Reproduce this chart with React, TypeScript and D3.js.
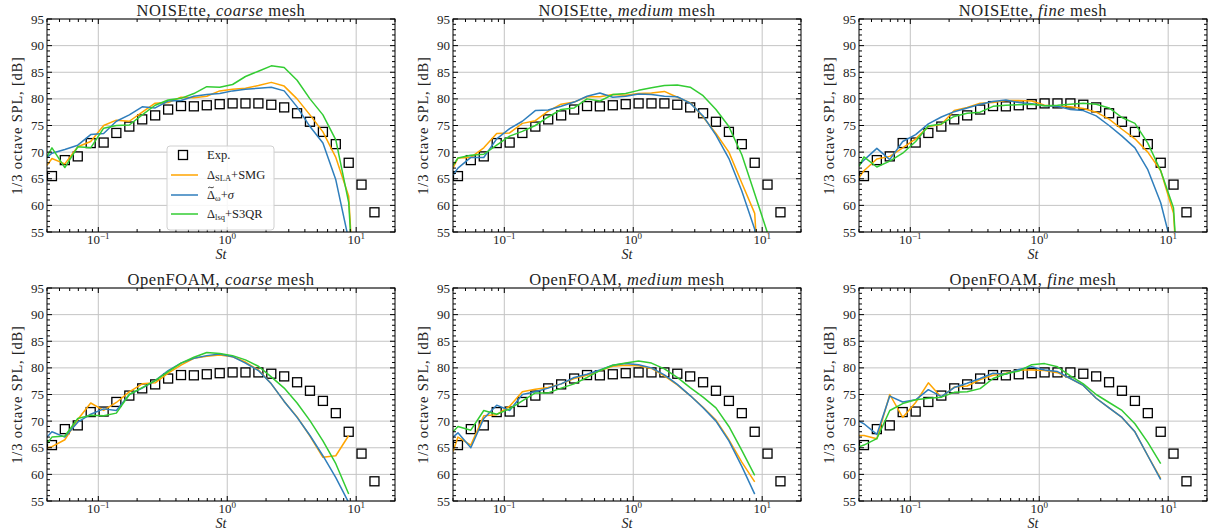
import React from "react";
import * as d3 from "d3";

// 1/3-octave band Strouhal numbers (experiment)
const EXP_ST = [0.0437, 0.055, 0.0693, 0.0873, 0.11, 0.138, 0.174, 0.219, 0.276, 0.348, 0.438, 0.551, 0.694, 0.874, 1.1, 1.385, 1.744, 2.196, 2.764, 3.48, 4.38, 5.52, 6.95, 8.75, 11.0, 13.86];
const EXP_SPL = [65.5, 68.5, 69.2, 71.7, 71.8, 73.6, 74.8, 76.15, 76.9, 78.0, 78.65, 78.6, 78.8, 79.0, 79.15, 79.15, 79.15, 78.9, 78.4, 77.3, 75.7, 73.8, 71.5, 68.0, 63.9, 58.7];

// Simulation St values (first value = left edge of axis)
const LINE_ST = [0.04, 0.0437, 0.055, 0.0693, 0.0873, 0.11, 0.138, 0.174, 0.219, 0.276, 0.348, 0.438, 0.551, 0.694, 0.874, 1.1, 1.385, 1.744, 2.196, 2.764, 3.48, 4.38, 5.52, 6.95, 8.75, 11.0, 13.86];

// NOISEtte coarse
const NC_SLA = [67.5, 68.8, 67.8, 71, 72, 75, 76, 75.8, 77.5, 79.2, 79.3, 80.3, 80.2, 80.5, 81.5, 81.8, 82, 82.5, 83.1, 82.4, 80, 77, 73.8, 69, 61.7, 20];
const NC_OMEGA = [69, 69.8, 70.5, 71.3, 73.3, 73.5, 75.8, 77, 78.5, 78.3, 79.6, 79.7, 80.5, 80.8, 81, 81.5, 81.8, 82, 82.2, 81.5, 78.5, 74.8, 71.7, 64.8, 53.5];
const NC_LSQ = [69.2, 70.8, 67.1, 71, 70.8, 74.5, 75, 75.1, 77, 78.8, 79.8, 80.1, 81, 82.3, 82.2, 82.7, 84.2, 85.2, 86.2, 85.9, 83.5, 80, 77, 72.3, 60.5, 20];
// NOISEtte medium
const NM_SLA = [67, 68.9, 69, 70.8, 73.5, 73.6, 75.4, 75.9, 77.7, 79, 79.4, 80.4, 80.4, 80.8, 80.7, 81, 81.1, 81.4, 80.3, 79.3, 76.6, 73.5, 70, 64.2, 58.5, 20];
const NM_OMEGA = [65.7, 67, 69, 69, 72.5, 74.4, 75.8, 77.8, 77.9, 78.6, 79.4, 80.5, 81.1, 80.3, 80.5, 80.9, 80.8, 80.5, 80.4, 79.2, 76.8, 73.2, 68.8, 62.7, 55.5, 20];
const NM_LSQ = [67.5, 68.9, 69.4, 69.6, 71.3, 73, 73.9, 75, 76.6, 78, 78.3, 80, 79.6, 80.8, 81, 81.6, 82.1, 82.5, 82.6, 82.2, 80.6, 78, 74.8, 69.5, 62.2, 54.8];
// NOISEtte fine
const NF_SLA = [65.2, 66.5, 68.7, 69.2, 70.8, 72.5, 74.8, 75.2, 77.8, 78.4, 79.2, 79.3, 79.7, 79.7, 79.6, 78.8, 78.6, 78.5, 78.2, 77.5, 76.2, 74.3, 72.5, 70, 66.5, 58.5, 20];
const NF_OMEGA = [67.5, 68.5, 70.7, 68.6, 72, 73.3, 75.3, 76.6, 77.6, 78.3, 79, 79.5, 79.8, 79.3, 79.1, 78.7, 78.6, 78, 77.8, 76.8, 75, 73, 70.8, 66.7, 60.5, 51];
const NF_LSQ = [67.3, 69.1, 67.2, 68.3, 69.8, 72, 74.9, 75.3, 76.7, 77.3, 77.5, 78.6, 78.8, 78.9, 79, 78.7, 78.8, 79, 79.2, 79, 78.3, 76.5, 75.4, 71.7, 66.5, 59.5, 20];
// OpenFOAM coarse
const OC_SLA = [65, 65.2, 66.5, 70.3, 73.4, 72, 73.5, 75.5, 77, 77.2, 79, 80.5, 81.8, 82.2, 82.4, 82.1, 81.1, 79.6, 77, 73.7, 70.8, 67.2, 63.2, 63.5, 67.3];
const OC_OMEGA = [67, 68, 67, 69.8, 71.3, 72.3, 72, 75, 76.2, 77.6, 79.5, 80.9, 81.8, 82.3, 82.6, 82.1, 80.9, 79.5, 77, 73.7, 70.7, 67.3, 63.5, 59.4, 54.7];
const OC_LSQ = [65.8, 67, 67.2, 70.5, 71.1, 71, 71.5, 75, 76.3, 77.6, 79.3, 80.9, 82, 82.9, 82.7, 82.3, 81.5, 80.3, 78.3, 76.2, 73.4, 70.1, 66.3, 62, 56.3];
// OpenFOAM medium
const OM_SLA = [64.3, 67, 65.5, 71, 71.2, 72.8, 75.5, 76, 76.3, 77, 78, 78.6, 79.5, 80.3, 80.5, 80.4, 79.9, 78.5, 76.8, 74.8, 72.6, 70.2, 66.5, 62.3, 58.6];
const OM_OMEGA = [67, 67.8, 65, 70.5, 73, 72, 75, 75.5, 76.2, 77, 78.2, 78.8, 79.6, 80.5, 80.8, 80.6, 80, 78.7, 76.9, 74.8, 72.5, 70, 66.3, 61.5, 56.3];
const OM_LSQ = [68, 69, 68.3, 72, 71.3, 72.3, 73.8, 75.3, 75.3, 76.2, 77, 78.2, 79.5, 80.5, 80.9, 81.3, 80.9, 79.8, 78.2, 76.3, 74.5, 72.5, 69, 64.5, 59.8];
// OpenFOAM fine
const OF_SLA = [67.3, 67.3, 66.7, 75, 70.7, 73.5, 77.2, 74.5, 76.4, 76.6, 77.8, 78.6, 79, 79.6, 79.6, 79.5, 79.1, 78, 76.7, 74.3, 72.5, 70.7, 68, 63.5, 59.2];
const OF_OMEGA = [70, 69.5, 67.5, 74.7, 73.6, 74, 75.9, 74.6, 76.3, 77.1, 78, 79, 78.8, 79.7, 80.2, 79.6, 79.3, 78, 76.7, 74.3, 72.5, 70.7, 68, 63.5, 59];
const OF_LSQ = [65.2, 65.5, 66.7, 72, 73.3, 74, 74.3, 74.5, 75.4, 75.5, 76.1, 78, 78.9, 79.4, 80.6, 80.8, 80.2, 78.5, 77, 75, 73.5, 72, 69.5, 66, 62];

const SOLVERS = ["NOISEtte", "OpenFOAM"];
const MESHES = ["coarse", "medium", "fine"];
const DATA = [
  [[NC_SLA, NC_OMEGA, NC_LSQ], [NM_SLA, NM_OMEGA, NM_LSQ], [NF_SLA, NF_OMEGA, NF_LSQ]],
  [[OC_SLA, OC_OMEGA, OC_LSQ], [OM_SLA, OM_OMEGA, OM_LSQ], [OF_SLA, OF_OMEGA, OF_LSQ]],
];

const X_DOMAIN = [0.04, 20];
const Y_DOMAIN = [55, 95];
const X_MAJOR = [0.1, 1, 10];
const X_MAJOR_EXP = ["\u22121", "0", "1"];
const Y_MAJOR = [55, 60, 65, 70, 75, 80, 85, 90, 95];

const COLORS = ["#ffa500", "#2f7ebc", "#33cc33"];
const FONT = "'Liberation Serif', 'DejaVu Serif', serif";
const TEXT = "#222";

const W = 348;
const H = 213;
const LEFTS = [47, 453, 859];
const TOPS = [19, 288];

function Panel({ left, top, row, col }: { left: number; top: number; row: number; col: number }) {
  const x = d3.scaleLog().domain(X_DOMAIN).range([0, W]);
  const y = d3.scaleLinear().domain(Y_DOMAIN).range([H, 0]);
  const line = d3
    .line<number>()
    .x((_, i) => x(LINE_ST[i]))
    .y((d) => y(d));
  const xMinor = x.ticks().filter((t) => !X_MAJOR.some((m) => Math.abs(m - t) / m < 1e-6));
  const yMinor = d3.range(Y_DOMAIN[0], Y_DOMAIN[1] + 0.5, 1).filter((v) => v % 5 !== 0);
  const clipId = `clip-${row}-${col}`;
  const series = DATA[row][col];
  return (
    <g transform={`translate(${left},${top})`}>
      <defs>
        <clipPath id={clipId}>
          <rect x={0} y={0} width={W} height={H} />
        </clipPath>
      </defs>
      {/* grid */}
      {X_MAJOR.map((t) => (
        <line key={"gx" + t} x1={x(t)} x2={x(t)} y1={0} y2={H} stroke="#c4c4c4" strokeWidth={1} />
      ))}
      {Y_MAJOR.map((t) => (
        <line key={"gy" + t} x1={0} x2={W} y1={y(t)} y2={y(t)} stroke="#c4c4c4" strokeWidth={1} />
      ))}
      {/* experiment */}
      <g clipPath={`url(#${clipId})`}>
        {EXP_ST.map((s, i) => (
          <rect
            key={"e" + i}
            x={x(s) - 4.5}
            y={y(EXP_SPL[i]) - 4.5}
            width={9}
            height={9}
            fill="none"
            stroke="#000"
            strokeWidth={1.3}
          />
        ))}
        {series.map((vals, k) => (
          <path key={"l" + k} d={line(vals) || ""} fill="none" stroke={COLORS[k]} strokeWidth={1.5} strokeLinejoin="round" />
        ))}
      </g>
      {/* frame */}
      <rect x={0} y={0} width={W} height={H} fill="none" stroke="#000" strokeWidth={1} />
      {/* ticks */}
      {X_MAJOR.map((t) => (
        <g key={"tx" + t}>
          <line x1={x(t)} x2={x(t)} y1={H} y2={H - 5} stroke="#000" />
          <line x1={x(t)} x2={x(t)} y1={0} y2={5} stroke="#000" />
        </g>
      ))}
      {xMinor.map((t) => (
        <g key={"mx" + t}>
          <line x1={x(t)} x2={x(t)} y1={H} y2={H - 3} stroke="#000" />
          <line x1={x(t)} x2={x(t)} y1={0} y2={3} stroke="#000" />
        </g>
      ))}
      {Y_MAJOR.map((t) => (
        <g key={"ty" + t}>
          <line x1={0} x2={5} y1={y(t)} y2={y(t)} stroke="#000" />
          <line x1={W} x2={W - 5} y1={y(t)} y2={y(t)} stroke="#000" />
        </g>
      ))}
      {yMinor.map((t) => (
        <g key={"my" + t}>
          <line x1={0} x2={3} y1={y(t)} y2={y(t)} stroke="#000" />
          <line x1={W} x2={W - 3} y1={y(t)} y2={y(t)} stroke="#000" />
        </g>
      ))}
      {/* tick labels */}
      {Y_MAJOR.map((t) => (
        <text key={"ly" + t} x={-3} y={y(t)} dy="0.35em" textAnchor="end" fontSize={13} fontFamily={FONT} fill={TEXT}>
          {t}
        </text>
      ))}
      {X_MAJOR.map((t, i) => (
        <text key={"lx" + t} x={x(t)} y={H + 12} textAnchor="middle" fontSize={13} fontFamily={FONT} fill={TEXT}>
          10
          <tspan dy={-5} fontSize={9}>
            {X_MAJOR_EXP[i]}
          </tspan>
        </text>
      ))}
      {/* axis labels */}
      <text x={W / 2} y={H + 27} textAnchor="middle" fontSize={14} fontStyle="italic" fontFamily={FONT} fill={TEXT}>
        St
      </text>
      <text
        transform={`translate(${-25},${H / 2}) rotate(-90)`}
        textAnchor="middle"
        fontSize={14.5}
        letterSpacing={0.8}
        fontFamily={FONT}
        fill={TEXT}
      >
        1/3 octave SPL, [dB]
      </text>
      {/* title */}
      <text x={W / 2} y={-3} textAnchor="middle" fontSize={16.5} letterSpacing={0.6} fontFamily={FONT} fill={TEXT}>
        {SOLVERS[row]}, <tspan fontStyle="italic">{MESHES[col]}</tspan> mesh
      </text>
      {row === 0 && col === 0 && <Legend />}
    </g>
  );
}

function Legend() {
  const lx = 120;
  const ly = 127;
  const rows = [8, 27, 47, 66];
  const t = rows[2] - 6;
  return (
    <g transform={`translate(${lx},${ly})`}>
      <rect x={0} y={0} width={107} height={84} rx={3} fill="#fff" fillOpacity={0.85} stroke="#d0d0d0" />
      <rect x={16 - 4.5} y={rows[0] + 1 - 4.5} width={9} height={9} fill="none" stroke="#000" strokeWidth={1.3} />
      {COLORS.map((c, i) => (
        <line key={c} x1={4} x2={31} y1={rows[i + 1] + 2} y2={rows[i + 1] + 2} stroke={c} strokeWidth={1.5} />
      ))}
      <path
        d={`M41.2,${t + 0.8} C42.5,${t - 1.2} 44.5,${t + 2.2} 46.8,${t}`}
        fill="none"
        stroke={TEXT}
        strokeWidth={0.9}
      />
      <g fontFamily={FONT} fontSize={12.5} fill={TEXT}>
        <text x={40} y={rows[0] + 5}>Exp.</text>
        <text x={40} y={rows[1] + 6}>
          Δ<tspan fontSize={8.5} dy={2}>SLA</tspan>
          <tspan dy={-2}>+SMG</tspan>
        </text>
        <text x={40} y={rows[2] + 6}>
          Δ<tspan fontSize={8.5} dy={2}>ω</tspan>
          <tspan dy={-2}>+</tspan>
          <tspan fontStyle="italic">σ</tspan>
        </text>
        <text x={40} y={rows[3] + 6}>
          Δ<tspan fontSize={8.5} dy={2}>lsq</tspan>
          <tspan dy={-2}>+S3QR</tspan>
        </text>
      </g>
    </g>
  );
}

export default function App() {
  return (
    <svg width={1214} height={532} style={{ display: "block", position: "absolute", left: 0, top: 0, background: "#fff" }}>
      {TOPS.map((t, r) =>
        LEFTS.map((l, c) => <Panel key={`${r}-${c}`} left={l} top={t} row={r} col={c} />)
      )}
    </svg>
  );
}
